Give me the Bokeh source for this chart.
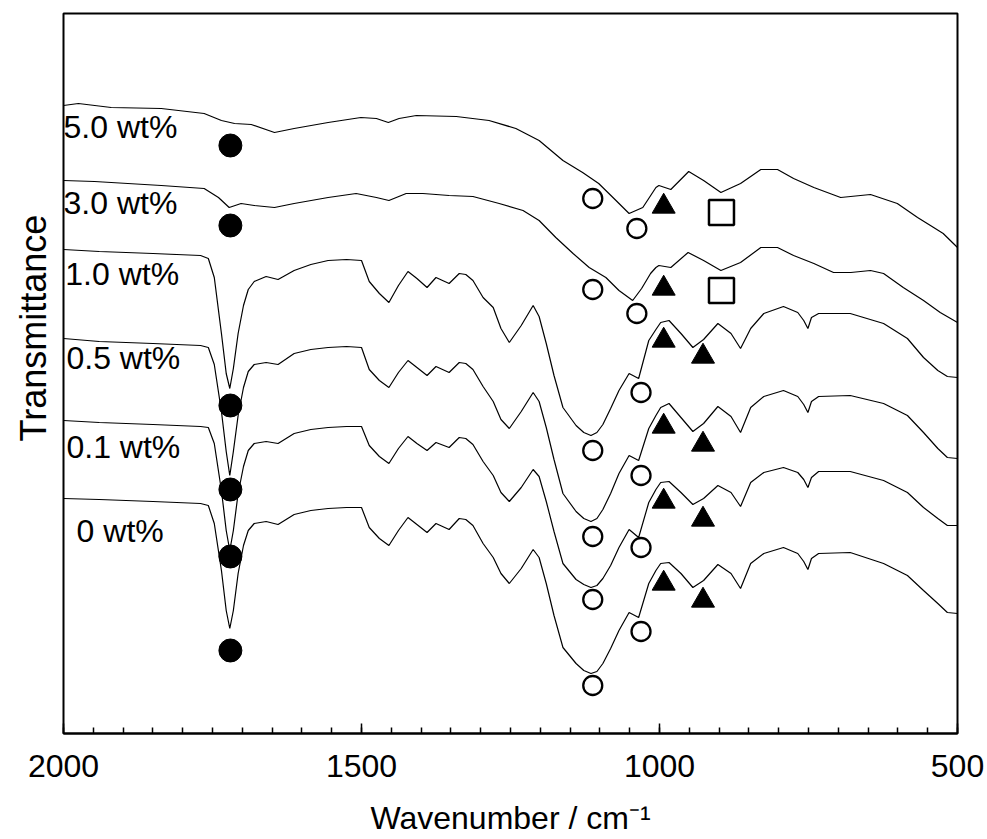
from bokeh.plotting import figure
from bokeh.models import ColumnDataSource, Range1d, FixedTicker, Title
from bokeh.embed import file_html
from bokeh.resources import INLINE
from bokeh.core.properties import value

# ---------------- data ----------------
# common wavenumber grid for the 0, 0.1, 0.5 and 1.0 wt% spectra (cm-1)
WN_LOW = [2000, 1940, 1850, 1770, 1757, 1747, 1735, 1727, 1721, 1715,
          1707, 1698, 1690, 1680, 1660, 1640, 1613, 1585, 1556, 1525,
          1500, 1487, 1470, 1454, 1438, 1422, 1407, 1390, 1375, 1353,
          1336, 1325, 1313, 1296, 1279, 1266, 1252, 1232, 1212, 1202,
          1190, 1177, 1162, 1140, 1127, 1115, 1105, 1095, 1082, 1068,
          1051, 1035, 1018, 1006, 998, 984, 964, 944, 926, 902,
          880, 864, 847, 825, 792, 768, 758, 751, 745, 733,
          680, 624, 584, 557, 533, 517, 500]

# transmittance, offset (arbitrary units)
T_0 = [235, 234, 232, 230, 228, 210, 163, 123, 105, 123,
       160, 188, 203, 210, 212, 209, 219, 223, 225, 226,
       226, 206, 195, 188, 203, 216, 209, 201, 210, 204,
       215, 214, 208, 190, 176, 160, 150, 165, 184, 176,
       150, 118, 86, 70, 63, 60, 62, 70, 85, 103,
       121, 116, 150, 163, 170, 171, 160, 146, 153, 169,
       160, 145, 170, 180, 186, 180, 172, 164, 175, 180,
       181, 170, 158, 143, 130, 121, 120]

T_01 = [313, 311, 309, 307, 306, 290, 243, 203, 183, 203,
        240, 267, 283, 290, 292, 290, 300, 304, 306, 307,
        307, 288, 277, 270, 285, 297, 290, 283, 291, 286,
        296, 295, 289, 272, 258, 241, 232, 246, 264, 257,
        232, 202, 170, 154, 149, 146, 148, 155, 168, 186,
        204, 196, 231, 244, 251, 252, 241, 229, 235, 248,
        241, 227, 251, 261, 266, 261, 254, 246, 256, 262,
        262, 253, 241, 226, 215, 208, 208]

T_05 = [395, 392, 390, 388, 386, 369, 322, 282, 258, 282,
        318, 346, 362, 369, 371, 369, 380, 384, 386, 387,
        386, 364, 353, 346, 361, 373, 366, 358, 367, 361,
        371, 370, 364, 347, 332, 314, 305, 322, 341, 332,
        306, 274, 240, 222, 215, 212, 215, 224, 240, 260,
        278, 273, 305, 318, 326, 330, 316, 302, 310, 327,
        317, 301, 326, 337, 343, 337, 329, 321, 332, 337,
        338, 330, 318, 301, 285, 276, 275]

T_10 = [484, 482, 480, 478, 475, 456, 400, 360, 345, 365,
        400, 428, 444, 452, 457, 454, 463, 469, 473, 474,
        473, 452, 440, 431, 448, 462, 455, 446, 456, 450,
        460, 459, 453, 436, 426, 405, 391, 408, 428, 417,
        390, 358, 326, 308, 301, 298, 301, 309, 325, 343,
        360, 355, 393, 404, 411, 413, 400, 386, 394, 410,
        400, 385, 405, 420, 427, 421, 413, 405, 416, 420,
        420, 410, 395, 376, 363, 357, 356]

WN_30 = [2000, 1948, 1836, 1764, 1740, 1722, 1702, 1680, 1646, 1613,
         1556, 1509, 1475, 1454, 1425, 1397, 1353, 1313, 1269, 1229,
         1202, 1174, 1145, 1118, 1090, 1068, 1045, 1030, 1015, 1006,
         1001, 981, 952, 926, 897, 864, 830, 802, 775, 741,
         708, 679, 646, 624, 591, 557, 529, 500]
T_30 = [553, 552, 548, 545, 536, 526, 530, 528, 526, 530,
        536, 540, 536, 533, 540, 540, 538, 537, 530, 523,
        513, 496, 480, 466, 456, 443, 433, 445, 460, 466,
        468, 466, 481, 473, 463, 471, 486, 486, 478, 470,
        461, 461, 463, 460, 446, 433, 421, 411]

WN_50 = [2000, 1975, 1920, 1836, 1764, 1735, 1713, 1685, 1646, 1613,
         1556, 1501, 1475, 1455, 1437, 1408, 1341, 1286, 1241, 1202,
         1162, 1129, 1102, 1073, 1051, 1028, 1006, 1001, 981, 951,
         926, 897, 864, 830, 802, 775, 741, 696, 646, 601,
         567, 540, 524, 500]
T_50 = [628, 630, 626, 625, 620, 613, 610, 609, 601, 605,
        611, 616, 615, 611, 615, 618, 617, 613, 605, 593,
        573, 561, 550, 533, 520, 526, 546, 548, 544, 562,
        553, 541, 550, 564, 564, 555, 546, 536, 539, 530,
        516, 506, 500, 486]

SERIES = [(WN_50, T_50), (WN_30, T_30), (WN_LOW, T_10),
          (WN_LOW, T_05), (WN_LOW, T_01), (WN_LOW, T_0)]

# curve labels
LABELS = ["5.0 wt%", "3.0 wt%", "1.0 wt%", "0.5 wt%", "0.1 wt%", "0 wt%"]
LABEL_WN = [2000, 2000, 1997, 1995, 1995, 1978]
LABEL_T = [607, 531, 460, 376, 287, 203]

# band assignment markers
DOT_WN = [1720, 1720, 1720, 1720, 1720, 1720]
DOT_T = [588, 508, 328, 244, 177, 83]
OC1_WN = [1112, 1112, 1112, 1112, 1112, 1112]
OC1_T = [535, 444, 283, 197, 134, 48]
OC2_WN = [1038, 1038, 1031, 1031, 1031, 1031]
OC2_T = [505, 420, 341, 258, 186, 102]
TRI1_WN = [993, 993, 993, 993, 993, 993]
TRI1_T = [527, 445, 393, 307, 232, 150]
TRI2_WN = [927, 927, 927, 927]
TRI2_T = [377, 289, 214, 133]
SQ_WN = [896, 896]
SQ_T = [521, 443]

X_MAJOR = [500, 1000, 1500, 2000]
X_MINOR = list(range(500, 2001, 50))

FONT = "Liberation Sans"

# ---------------- figure ----------------
p = figure(width=985, height=839, output_backend="svg", toolbar_location=None,
           title=None, x_range=Range1d(2000, 500), y_range=Range1d(0, 720),
           y_axis_location=None,
           min_border_left=62, min_border_right=28, min_border_top=13,
           min_border_bottom=106)

p.xgrid.grid_line_color = None
p.ygrid.grid_line_color = None
p.outline_line_color = "black"
p.outline_line_width = 2
p.background_fill_color = "white"
p.border_fill_color = "white"

for wn, t in SERIES:
    src = ColumnDataSource(dict(wn=wn, t=t))
    p.line(x="wn", y="t", source=src, line_color="black", line_width=1.2)

p.scatter(x=DOT_WN, y=DOT_T, marker="circle", size=23,
          fill_color="black", line_color="black")
p.scatter(x=OC1_WN + OC2_WN, y=OC1_T + OC2_T, marker="circle", size=19,
          fill_color="white", line_color="black", line_width=2.3)
p.scatter(x=TRI1_WN + TRI2_WN, y=TRI1_T + TRI2_T, marker="triangle", size=23,
          fill_color="black", line_color="black")
p.scatter(x=SQ_WN, y=SQ_T, marker="square", size=25,
          fill_color="white", line_color="black", line_width=2.5)

lab_src = ColumnDataSource(dict(x=LABEL_WN, y=LABEL_T, text=LABELS))
p.text(x="x", y="y", text="text", source=lab_src,
       text_font=value(FONT), text_font_size=value("32px"),
       text_color="black", text_align="left", text_baseline="middle")

# x axis
xa = p.xaxis[0]
xa.ticker = FixedTicker(ticks=X_MAJOR, minor_ticks=X_MINOR)
xa.axis_label = "Wavenumber / cm\u207b\u00b9"
xa.axis_label_text_font = FONT
xa.axis_label_text_font_size = "32px"
xa.axis_label_text_font_style = "normal"
xa.axis_label_text_color = "black"
xa.axis_label_standoff = 20
xa.major_label_text_font = FONT
xa.major_label_text_font_size = "32px"
xa.major_label_text_color = "black"
xa.major_label_standoff = 21
xa.axis_line_color = "black"
xa.axis_line_width = 2
xa.major_tick_in = 10
xa.major_tick_out = 0
xa.minor_tick_in = 6
xa.minor_tick_out = 0
xa.major_tick_line_color = "black"
xa.major_tick_line_width = 1.5
xa.minor_tick_line_color = "black"
xa.minor_tick_line_width = 1.5

# y title (no y ticks in the reference), placed off-centre as in the reference
ytitle = Title(text="Transmittance", align="left", offset=292,
               text_font=FONT, text_font_size="36px", text_font_style="normal",
               text_color="black", standoff=20)
p.add_layout(ytitle, "left")

html = file_html(p, INLINE, title="FTIR spectra")
open("out.html", "w").write(html)
